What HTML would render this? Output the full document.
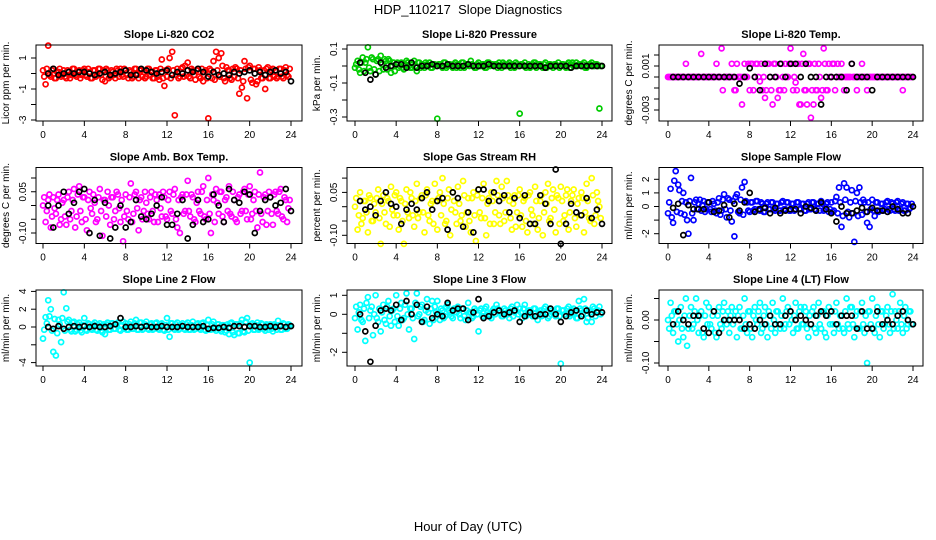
<!DOCTYPE html>
<html><head><meta charset="utf-8"><title>HDP_110217 Slope Diagnostics</title>
<style>
html,body{margin:0;padding:0;background:#fff;}
svg{display:block;font-family:"Liberation Sans",sans-serif;}
</style></head>
<body>
<svg id="chart" width="936" height="540" viewBox="0 0 936 540" xmlns="http://www.w3.org/2000/svg">
<text x="468" y="14" text-anchor="middle" font-size="13">HDP_110217&#160;&#160;Slope Diagnostics</text>
<text x="468" y="531" text-anchor="middle" font-size="13">Hour of Day (UTC)</text>
</svg>
<script>
// ---- data ----
const hours = [0,0.25,0.5,0.75,1,1.25,1.5,1.75,2,2.25,2.5,2.75,3,3.25,3.5,3.75,4,4.25,4.5,4.75,5,5.25,5.5,5.75,6,6.25,6.5,6.75,7,7.25,7.5,7.75,8,8.25,8.5,8.75,9,9.25,9.5,9.75,10,10.25,10.5,10.75,11,11.25,11.5,11.75,12,12.25,12.5,12.75,13,13.25,13.5,13.75,14,14.25,14.5,14.75,15,15.25,15.5,15.75,16,16.25,16.5,16.75,17,17.25,17.5,17.75,18,18.25,18.5,18.75,19,19.25,19.5,19.75,20,20.25,20.5,20.75,21,21.25,21.5,21.75,22,22.25,22.5,22.75,23,23.25,23.5,23.75];
const hours2 = [0.12,0.37,0.62,0.87,1.12,1.37,1.62,1.87,2.12,2.37,2.62,2.87,3.12,3.37,3.62,3.87,4.12,4.37,4.62,4.87,5.12,5.37,5.62,5.87,6.12,6.37,6.62,6.87,7.12,7.37,7.62,7.87,8.12,8.37,8.62,8.87,9.12,9.37,9.62,9.87,10.12,10.37,10.62,10.87,11.12,11.37,11.62,11.87,12.12,12.37,12.62,12.87,13.12,13.37,13.62,13.87,14.12,14.37,14.62,14.87,15.12,15.37,15.62,15.87,16.12,16.37,16.62,16.87,17.12,17.37,17.62,17.87,18.12,18.37,18.62,18.87,19.12,19.37,19.62,19.87,20.12,20.37,20.62,20.87,21.12,21.37,21.62,21.87,22.12,22.37,22.62,22.87,23.12,23.37,23.62,23.87];
const blackHours = [0.5,1,1.5,2,2.5,3,3.5,4,4.5,5,5.5,6,6.5,7,7.5,8,8.5,9,9.5,10,10.5,11,11.5,12,12.5,13,13.5,14,14.5,15,15.5,16,16.5,17,17.5,18,18.5,19,19.5,20,20.5,21,21.5,22,22.5,23,23.5,24];
const xTicks = [0,4,8,12,16,20,24];

const co2Values = [0.2,-0.7,1.8,-0.2,0.3,-0.3,0.1,-0.2, 0.2,-0.3,0.1,-0.1,0.3,-0.2,0.2,-0.1, 0.3,-0.2,0.1,-0.3,0.2,-0.1,0.3,-0.4, -0.5,0.2,-0.2,0.1,-0.3,0.2,0.3,-0.2, 0.2,-0.3,0.1,-0.2,0.3,-0.3,0.2,0.1, -0.2,0.3,0.1,-0.3,0.2,-0.4,0.9,-0.8, -0.2,1.0,1.4,-2.7,0.3,-0.2,0.4,0.5, 0.7,-0.3,0.2,-0.4,0.3,-0.3,-0.5,0.2, -2.9,0.2,0.8,1.4,1.0,1.3,-0.3,0.4, 0.2,-0.4,-0.2,0.3,-1.3,-0.9,0.8,-1.6, 0.5,-0.6,0.3,-0.5,0.2,-0.3,-1.0,0.4, -0.3,0.3,0.2,-0.2,0.3,-0.3,0.4,-0.2];
const co2Values2 = [-0.2,0.3,-0.1,0.2,-0.3,0.1,0.3,-0.1, -0.2,0.2,-0.3,0.3,-0.1,0.1,-0.3,0.2, -0.1,0.3,-0.3,0.2,-0.2,0.3,-0.1,0.2, 0.3,-0.3,0.2,-0.1,0.3,-0.2,-0.1,0.3, -0.1,0.2,-0.3,0.3,-0.1,0.2,-0.2,-0.3, 0.3,-0.1,-0.3,0.2,-0.2,0.3,-0.3,0.2, 0.3,-0.3,0.2,-0.1,-0.3,0.3,-0.2,-0.1, -0.2,0.3,-0.1,0.2,-0.2,0.3,0.1,-0.3, 0.3,-0.3,-0.4,0.2,-0.2,0.5,-0.5,0.2, -0.3,0.3,0.4,-0.3,0.2,-0.5,0.3,0.4, -0.4,0.3,-0.7,0.4,-0.3,0.2,0.3,-0.3, 0.2,-0.2,-0.3,0.3,-0.2,0.2,-0.1,0.3];
const co2Black = [0,0.3,-0.1,0,0.1,0,0.1,0.1,0,-0.1,0,0.1,-0.1,0,0.1,0.2,-0.1,-0.1,0.3,0.2,0.1,0,0.1,0.2,-0.1,0.1,0,0.2,0.1,0.3,0.1,-0.2,0.1,-0.1,0,-0.1,0.1,0,0.1,0.2,0,0.1,-0.1,0.1,0.2,0,0.1,-0.5];

const pressValues = [-0.01,0.03,-0.04,0.05,0.02,0.11,-0.03,0.04, -0.05,0.04,0.06,-0.02,0.03,0.04,-0.04,0.02, 0.01,-0.01,0.02,-0.02,0.03,0.00,-0.01,0.03, -0.03,0.02,0.01,-0.01,0.01,0.02,-0.01,0.01, -0.31,0.01,-0.01,0.02,0.00,0.01,-0.01,0.02, 0.01,-0.01,0.02,0.00,0.01,0.03,0.00,-0.01, 0.02,0.00,0.01,-0.01,0.02,0.01,0.00,0.01, 0.02,-0.01,0.01,0.00,0.02,0.01,-0.01,0.01, -0.28,0.01,0.02,0.00,-0.01,0.01,0.02,0.00, 0.01,-0.01,0.02,0.00,0.01,-0.01,0.01,0.02, 0.00,0.01,-0.01,0.02,0.01,0.00,0.02,0.01, 0.00,0.02,-0.01,0.01,0.02,0.00,0.01,-0.25];
const pressValues2 = [0.01,-0.02,0.02,-0.03,0.04,-0.01,0.05,-0.02, 0.03,-0.03,0.01,0.04,-0.02,0.03,0.00,-0.03, 0.02,0.00,-0.01,0.01,0.02,-0.01,0.01,0.00, 0.02,-0.01,0.00,0.02,0.00,-0.01,0.01,0.00, 0.01,0.00,0.02,-0.01,0.01,0.00,0.01,-0.01, 0.00,0.02,-0.01,0.01,0.00,0.01,-0.01,0.01, 0.00,0.01,-0.01,0.02,0.00,0.01,0.01,-0.01, 0.00,0.02,0.00,0.01,-0.01,0.00,0.02,0.00, 0.01,0.00,-0.01,0.01,0.00,0.02,-0.01,0.01, 0.00,0.01,-0.01,0.01,0.00,0.01,0.00,-0.01, 0.01,0.00,0.01,-0.01,0.02,0.00,0.00,0.01, 0.01,-0.01,0.00,0.01,0.00,0.01,0.00,0.00];
const pressBlack = [0.02,-0.04,-0.08,-0.05,0.02,-0.01,0.00,0.01,0.01,-0.01,0.02,-0.01,0.00,0.00,0.01,0.00,0.00,0.01,0.00,0.00,0.00,0.01,0.00,0.00,0.00,0.01,0.00,0.00,0.00,0.00,0.00,0.00,0.00,0.00,0.00,0.00,-0.01,0.00,0.00,0.00,0.00,-0.01,0.00,0.00,0.00,0.00,0.00,0.00];

// Li-820 temp values in units of 0.001 degC/min
const tempValues = [0,0,0,0,0,0,0,1.2, 0,0,0,0,0,2.1,0,0, 0,0,0,1.2,0,2.6,0,0, 0,1.2,-1.2,1.2,0,-2.5,1.2,0, -1.2,1.2,0,1.2,-0.4,-1.2,-1.9,1.2, 0,-2.5,1.2,-1.9,-1.2,0,1.2,0, 2.6,-1.2,-0.5,1.2,-2.5,2.1,-1.2,1.2, -3.7,-2.5,-1.2,1.2,-1.9,2.6,-1.2,1.2, 0,1.2,0,0,1.2,-1.2,0,0, 1.2,0,-1.2,0,1.2,0,-1.2,0, 0,0,0,0,0,0,0,0, 0,0,0,0,-1.2,0,0,0];
const tempValues2 = [0,0,0,0,0,0,0,0, 0,0,0,0,0,0,0,0, 0,0,0,0,0,-1.2,0,0, 0,0,-1.2,0,0,0,0,1.2, 1.2,-1.2,1.2,0,1.2,0,-1.2,1.2, -1.2,1.2,0,-1.2,1.2,-1.2,0,1.2, 1.2,0,-1.2,-2.5,1.2,-1.2,-2.5,1.2, -1.2,1.2,-1.2,0,-1.2,1.2,-1.2,0, 1.2,-1.2,1.2,0,0,0,0,0, 0,0,0,0,0,0,0,0, 0,0,0,0,0,0,0,0, 0,0,0,0,0,0,0,0];
const tempBlack = [0,0,0,0,0,0,0,0,0,0,0,0,0,-0.6,0,0.8,0,-1.2,1.2,0,0,1.2,0,1.2,1.2,0,1.2,0,0,-2.5,0,0,0,0,-1.2,1.2,0,0,0,-1.2,0,0,0,0,0,0,0,0];

const ambValues = [0.0,-0.06,0.02,-0.08,0.03,-0.03,0.04,-0.05, 0.02,-0.07,0.05,-0.02,0.06,-0.04,0.07,-0.06, 0.03,-0.09,0.05,-0.03,0.01,-0.05,0.06,-0.11, 0.02,0.05,-0.07,0.03,-0.02,0.04,-0.06,-0.13, 0.04,-0.05,0.08,-0.03,0.05,-0.09,0.03,-0.02, 0.01,-0.05,0.05,-0.06,0.02,0.04,-0.04,0.03, -0.05,0.05,-0.03,0.06,-0.08,-0.1,0.04,-0.02, 0.09,-0.04,0.03,-0.06,0.05,-0.03,0.07,-0.05, 0.1,-0.1,0.02,0.06,-0.03,0.05,-0.06,0.03, 0.07,-0.04,0.02,-0.06,0.04,-0.02,0.06,-0.05, 0.07,-0.03,0.05,-0.08,0.12,-0.06,0.04,-0.02, 0.03,-0.07,0.05,-0.03,0.06,-0.05,0.02,-0.01];
const ambValues2 = [0.03,-0.02,0.04,-0.04,-0.01,0.02,-0.07,0.01, -0.04,0.03,-0.05,0.02,-0.08,0.04,-0.02,0.03, -0.05,0.02,-0.01,0.04,-0.06,0.03,-0.02,0.02, -0.04,0.0,0.03,-0.05,0.05,-0.01,0.02,-0.04, -0.02,0.03,-0.06,0.04,-0.01,0.02,-0.05,0.05, -0.03,0.03,-0.02,0.04,-0.06,-0.01,0.05,-0.04, 0.02,-0.02,0.04,-0.05,0.02,0.03,-0.03,0.04, -0.02,0.04,-0.05,0.01,-0.02,0.05,-0.04,0.02, -0.03,0.04,-0.06,0.01,0.05,-0.04,0.02,-0.02, -0.03,0.05,-0.05,0.03,-0.03,0.05,-0.02,0.04, -0.05,0.02,-0.02,0.04,-0.03,0.03,-0.07,0.05, -0.03,0.04,-0.02,0.05,-0.04,0.03,-0.06,0.02];
const ambBlack = [0,-0.08,0,0.05,-0.03,0.01,0.05,0.06,-0.1,0.02,-0.11,0.01,-0.12,-0.08,0.0,-0.08,-0.06,0.02,-0.04,-0.05,-0.03,0.0,0.03,-0.07,-0.07,-0.03,0.02,-0.12,-0.07,0.02,-0.06,-0.05,0.04,0.0,-0.06,0.06,0.02,0.01,0.05,0.04,-0.1,-0.02,0.02,0.03,0.0,0.01,0.06,-0.02];

const rhValues = [0.0,-0.08,0.05,-0.04,0.02,-0.09,0.03,-0.05, -0.02,0.06,-0.13,0.04,-0.06,0.02,0.07,-0.03, 0.05,-0.08,0.02,-0.13,0.06,-0.04,0.03,-0.07, 0.08,-0.02,0.04,-0.09,0.06,-0.05,0.02,0.08, -0.08,0.05,0.1,-0.06,0.03,-0.1,0.05,-0.02, 0.07,-0.05,0.09,-0.07,0.03,-0.09,0.05,-0.12, 0.06,-0.04,0.08,-0.1,0.03,0.05,-0.06,0.09, -0.03,0.07,-0.05,0.09,0.02,-0.08,0.04,-0.02, 0.06,-0.07,0.03,-0.09,0.05,-0.03,0.07,-0.08, 0.02,-0.1,0.05,0.08,-0.04,0.06,-0.09,0.03, 0.07,-0.05,0.04,-0.08,0.02,0.06,-0.07,0.03, 0.05,-0.09,0.08,-0.04,0.1,-0.06,0.05,0.0];
const rhValues2 = [0.03,-0.03,-0.06,0.02,-0.02,0.04,-0.05,0.01, 0.03,-0.04,0.01,-0.02,0.03,-0.07,-0.01,0.04, -0.03,0.03,-0.05,0.01,-0.02,0.05,-0.03,0.02, -0.04,0.03,-0.02,0.04,-0.03,0.01,-0.06,0.02, 0.03,-0.03,0.01,-0.05,0.06,-0.01,0.02,-0.06, 0.01,-0.03,0.04,-0.02,-0.05,0.03,-0.03,0.04, -0.02,0.03,-0.04,0.01,-0.06,0.02,-0.02,0.04, -0.06,0.03,-0.02,0.04,-0.04,0.01,-0.07,0.04, -0.03,0.02,-0.05,0.04,-0.01,-0.06,0.02,-0.04, 0.04,-0.02,0.01,-0.05,0.03,-0.01,0.04,-0.06, 0.02,-0.03,0.06,-0.02,0.04,-0.04,0.01,-0.03, 0.03,-0.02,0.02,-0.05,0.04,-0.03,0.02,-0.04];
const rhBlack = [0.02,-0.01,0.0,-0.03,0.02,0.05,0.01,0.0,-0.06,-0.01,0.01,-0.01,0.03,0.05,-0.01,0.02,0.03,-0.08,0.05,0.03,-0.07,-0.02,-0.09,0.06,0.06,0.02,0.05,0.02,0.04,-0.02,0.03,-0.04,0.04,-0.06,-0.06,0.04,0.01,-0.06,0.13,-0.13,-0.06,0.01,-0.02,-0.03,0.03,-0.04,-0.01,-0.06];

const sampleValues = [-0.5,1.3,-1.2,2.6,1.6,-0.5,1.0,0.3, -2.0,2.1,-1.0,0.5,0.2,-0.3,0.4,-0.2, 0.3,-0.4,0.2,-0.5,0.6,-0.3,0.9,-0.8, 0.5,-1.1,-2.2,0.9,-0.5,1.4,1.8,0.3, -0.4,0.3,-0.2,0.4,-0.3,0.2,-0.4,0.3, -0.2,0.3,-0.3,0.2,-0.3,0.4,-0.2,0.3, -0.3,0.2,-0.2,0.3,-0.2,0.2,-0.3,0.3, -0.2,0.3,-0.3,0.2,0.4,-0.3,0.2,-0.4, 0.3,-0.3,0.7,1.4,-1.5,1.7,1.4,-0.8, 1.2,-2.6,1.0,1.4,-0.6,0.3,-1.2,-1.5, 0.5,-0.7,0.3,-0.3,0.2,-0.2,0.4,-0.3, 0.2,-0.3,0.4,-0.2,0.3,-0.3,0.2,-0.1];
const sampleValues2 = [0.3,-0.8,1.9,-0.4,1.2,0.4,-0.6,-1.0, 0.4,-0.5,0.3,-0.2,0.5,0.1,-0.4,0.3, -0.2,0.4,-0.3,0.3,-0.6,0.5,-0.2,0.6, -0.3,0.4,0.7,-0.4,0.5,-0.6,0.4,-0.3, 0.3,-0.3,0.4,-0.2,0.3,-0.4,0.2,-0.2, 0.3,-0.2,0.2,-0.3,0.3,-0.2,0.3,-0.3, 0.2,-0.3,0.3,-0.2,0.2,-0.3,0.2,-0.2, 0.3,-0.2,0.2,-0.3,0.2,-0.2,0.3,-0.2, -0.4,0.4,-0.5,0.3,-0.7,0.5,-0.4,0.3, -0.5,0.4,-0.7,0.3,0.5,-0.4,0.3,-0.2, -0.3,0.3,-0.4,0.2,-0.3,0.3,-0.2,0.3, -0.2,0.3,-0.3,0.2,-0.3,0.2,-0.2,0.2];
const sampleBlack = [-0.1,0.2,-2.1,0.1,-0.2,-0.2,-0.2,0.3,-0.4,-0.3,0.1,-0.8,0.2,-0.3,0.3,1.0,-0.4,-0.2,-0.1,-0.5,-0.1,-0.5,-0.3,-0.2,-0.2,-0.5,0.0,-0.1,-0.3,0.3,-0.2,-0.5,-1.1,0.0,-0.5,-0.5,-0.3,-0.1,-0.4,-0.1,-0.3,-0.3,-0.4,0.0,-0.2,-0.5,-0.5,0.0];

const line2Values = [-1.3,1.1,3.0,2.0,-2.8,-3.2,0.8,-1.7, 3.9,2.1,0.8,-0.5,0.6,-0.3,0.5,-0.6, 1.0,-0.4,0.3,-0.3,0.5,-0.4,0.4,-0.6, -0.8,0.5,-0.3,0.4,-0.2,0.5,-0.4,0.6, 0.4,-0.3,0.6,-0.2,0.8,-0.3,0.5,-0.2, 0.6,-0.3,0.4,-0.2,0.5,-0.3,0.4,-0.4, 1.0,-1.1,0.4,-0.3,0.5,-0.2,0.4,-0.3, 0.5,-0.3,0.6,-0.2,0.4,-0.3,0.5,-0.4, 0.8,-0.3,0.6,-0.4,0.3,-0.5,0.2,-0.4, -0.8,0.5,-0.9,0.3,-0.7,0.8,-0.6,1.0, -4.0,0.4,-0.3,0.5,-0.2,0.3,-0.4,0.2, 0.3,-0.5,0.2,0.7,-0.3,0.4,-0.2,0.3];
const line2Values2 = [-0.3,0.4,1.2,-0.4,0.9,-0.7,0.3,1.0, -0.4,0.6,-0.3,0.5,-0.5,0.3,-0.4,0.2, -0.3,0.4,-0.2,0.3,-0.3,0.2,-0.4,0.3, 0.3,-0.3,0.4,-0.2,0.3,-0.3,0.2,-0.2, -0.3,0.3,-0.2,0.4,-0.3,0.5,-0.3,0.3, -0.2,0.3,-0.3,0.4,-0.2,0.3,-0.3,0.2, -0.3,0.4,-0.2,0.3,-0.3,0.2,-0.2,0.3, -0.3,0.2,-0.3,0.3,-0.2,0.4,-0.3,0.2, -0.3,0.3,-0.2,0.3,-0.3,0.2,-0.6,0.3, 0.4,-0.6,0.3,-0.7,0.4,-0.5,0.6,-0.4, 0.3,-0.3,0.2,-0.3,0.4,-0.2,0.3,-0.3, -0.2,0.3,-0.3,0.2,-0.3,0.3,-0.2,0.2];
const line2Black = [0,-0.2,0.1,-0.2,0,0.1,0,0.1,0,0.1,0,0,0.1,0.3,1.0,0,0,0.1,0,0.1,0,0,0.1,0,0,0,0.1,0,0,0,0.1,-0.2,-0.1,-0.1,0,-0.1,0.1,0.1,0,0.1,0.1,0,0,0.1,0,0.1,0,0.1];

const line3Values = [-0.2,-0.8,0.5,-0.4,-1.4,0.9,0.2,-1.1, 1.0,-0.4,-0.9,0.5,-0.5,0.7,-0.6,0.3, 1.0,-0.6,0.6,-0.2,1.1,-0.8,0.3,-1.3, 1.1,0.0,0.5,-0.3,0.8,-0.5,0.7,0.4, 0.7,-0.3,0.2,-0.1,0.5,0.1,-0.2,0.3, 0.4,-0.2,0.3,-0.3,0.6,0.1,-0.1,0.2, -0.9,0.3,-0.1,0.4,0.0,-0.2,0.3,0.5, 0.2,-0.1,0.3,0.0,-0.2,0.4,0.1,0.5, 0.3,-0.2,0.5,0.0,0.2,-0.1,0.3,-0.3, 0.2,0.0,0.4,-0.2,0.3,0.1,-0.1,0.3, -2.6,0.2,-0.1,0.4,0.0,0.3,-0.2,0.7, 0.2,0.8,-0.4,0.2,-0.4,0.3,0.1,0.4];
const line3Values2 = [0.4,0.1,-0.3,0.3,0.6,-0.2,0.4,0.0, -0.2,0.3,0.1,-0.3,0.4,-0.1,0.2,-0.4, -0.1,0.3,-0.3,0.5,0.0,0.3,-0.2,0.6, -0.1,0.4,-0.4,0.2,0.1,0.3,-0.3,0.1, 0.0,0.3,-0.2,0.4,0.2,-0.1,0.3,0.1, 0.0,0.3,-0.1,0.2,0.1,-0.2,0.3,0.0, 0.2,-0.1,0.3,0.1,-0.1,0.2,0.0,0.3, 0.1,-0.1,0.2,0.0,0.3,-0.1,0.2,0.0, 0.1,0.3,-0.1,0.2,0.0,0.3,-0.1,0.1, -0.1,0.3,0.1,-0.1,0.2,0.0,0.3,-0.1, 0.2,0.0,0.3,-0.1,0.2,0.1,-0.2,0.3, 0.0,0.3,-0.2,0.1,0.4,-0.1,0.2,0.0];
const line3Black = [0.0,-0.9,-2.5,-0.6,0.2,0.3,0.2,0.5,-0.3,0.7,0.0,0.5,-0.4,0.4,-0.2,0.0,-0.1,0.6,0.2,0.3,0.3,-0.3,0.1,0.8,-0.2,-0.1,0.1,0.2,0.0,0.1,0.2,-0.4,-0.1,0.1,-0.1,0.0,0.0,0.3,0.0,-0.4,-0.1,0.1,0.2,-0.1,0.2,0.0,0.1,0.1];

const line4Values = [0.0,0.04,-0.03,0.02,-0.05,0.03,-0.04,0.05, -0.02,0.03,-0.01,0.05,-0.03,0.02,-0.04,0.04, 0.03,-0.02,0.02,-0.04,0.03,-0.02,0.04,-0.01, -0.03,0.03,0.0,-0.04,0.03,-0.02,0.05,-0.03, 0.02,-0.04,0.03,-0.01,0.04,-0.02,0.03,-0.04, 0.01,0.04,-0.03,0.02,-0.02,0.05,-0.01,0.03, 0.02,-0.03,0.04,-0.02,0.03,-0.01,0.02,-0.04, -0.01,0.03,-0.03,0.04,-0.02,0.02,-0.04,0.03, 0.02,-0.03,0.04,-0.02,0.01,-0.03,0.05,-0.02, 0.03,-0.04,0.02,-0.02,0.04,-0.03,-0.10,0.02, 0.05,-0.03,0.03,-0.04,0.02,-0.01,0.03,-0.03, 0.06,0.02,-0.02,0.04,-0.03,0.03,-0.01,0.02];
const line4Values2 = [-0.02,0.01,0.02,-0.01,0.0,-0.02,0.01,-0.06, 0.01,-0.02,0.02,0.0,0.01,-0.03,0.01,-0.01, -0.01,0.01,-0.03,0.01,-0.01,0.02,0.0,0.02, 0.01,-0.01,0.02,0.01,-0.02,0.01,-0.01,0.02, -0.02,0.01,0.0,0.02,-0.03,0.01,-0.01,0.02, -0.02,0.0,0.02,-0.01,0.01,-0.02,0.02,-0.01, 0.0,0.01,-0.02,0.02,-0.01,0.03,-0.02,0.01, 0.02,-0.02,0.01,-0.01,0.02,-0.03,0.01,-0.01, -0.01,0.02,-0.01,0.01,-0.02,0.02,-0.01,0.03, -0.01,0.01,-0.02,0.02,-0.01,0.01,0.02,-0.01, -0.02,0.01,-0.01,0.02,-0.02,0.01,-0.01,0.02, -0.02,0.0,0.02,-0.01,0.01,-0.02,0.02,-0.01];
const line4Black = [-0.01,0.02,0.00,-0.01,0.01,0.01,-0.02,-0.03,0.02,-0.03,0.00,0.00,0.00,0.00,-0.02,-0.01,-0.02,0.00,-0.01,0.01,-0.01,-0.01,0.01,0.02,0.00,0.01,0.00,-0.01,0.01,0.02,0.01,0.02,-0.01,0.01,0.01,0.01,-0.02,0.02,-0.02,-0.02,0.02,-0.01,0.00,-0.01,0.01,0.02,0.00,-0.01];

const co2Ticks = [1,0,-1,-2,-3];
const co2TickLabels = ["1","","-1","","-3"];
const pressTicks = [0.1,0,-0.1,-0.2,-0.3];
const pressTickLabels = ["0.1","","-0.1","","-0.3"];
const tempTicks = [2,1,0,-1,-2,-3];
const tempTickLabels = ["","0.001","","","","-0.003"];
const ambTicks = [0.1,0.05,0,-0.05,-0.1];
const ambTickLabels = ["","0.05","","","-0.10"];
const rhTicks = [0.1,0.05,0,-0.05,-0.1];
const rhTickLabels = ["","0.05","","","-0.10"];
const sampleTicks = [2,1,0,-1,-2];
const sampleTickLabels = ["2","1","0","","-2"];
const line2Ticks = [4,2,0,-2,-4];
const line2TickLabels = ["4","2","0","","-4"];
const line3Ticks = [1,0,-1,-2];
const line3TickLabels = ["1","0","","-2"];
const line4Ticks = [0.05,0,-0.05,-0.1];
const line4TickLabels = ["","0.00","","-0.10"];

// ---- layout (not data) ----
const colLeft = [36,347,659], colRight = [302,612,923];
const colX0 = [43,355,668], colX24 = [291,602,913];
const rowTop = [45,167.5,290], rowBottom = [121,243.5,366];

const panels = [
 {name:'co2',title:'Slope Li-820 CO2',ylab:'Licor ppm per min.',col:0,row:0,zero:73.5,k:15.5,color:'#ff0000',vals:co2Values,vals2:co2Values2,blk:co2Black,ticks:co2Ticks,tl:co2TickLabels},
 {name:'pressure',title:'Slope Li-820 Pressure',ylab:'kPa per min.',col:1,row:0,zero:66,k:170,color:'#00cc00',vals:pressValues,vals2:pressValues2,blk:pressBlack,ticks:pressTicks,tl:pressTickLabels},
 {name:'li820-temp',title:'Slope Li-820 Temp.',ylab:'degrees C per min.',col:2,row:0,zero:77,k:11,color:'#ff00ff',vals:tempValues,vals2:tempValues2,blk:tempBlack,ticks:tempTicks,tl:tempTickLabels},
 {name:'amb-box-temp',title:'Slope Amb. Box Temp.',ylab:'degrees C per min.',col:0,row:1,zero:205.5,k:275,color:'#ff00ff',vals:ambValues,vals2:ambValues2,blk:ambBlack,ticks:ambTicks,tl:ambTickLabels},
 {name:'gas-stream-rh',title:'Slope Gas Stream RH',ylab:'percent per min.',col:1,row:1,zero:206.7,k:286,color:'#ffff00',vals:rhValues,vals2:rhValues2,blk:rhBlack,ticks:rhTicks,tl:rhTickLabels},
 {name:'sample-flow',title:'Slope Sample Flow',ylab:'ml/min per min.',col:2,row:1,zero:206.5,k:13.6,color:'#0000ff',vals:sampleValues,vals2:sampleValues2,blk:sampleBlack,ticks:sampleTicks,tl:sampleTickLabels},
 {name:'line2-flow',title:'Slope Line 2 Flow',ylab:'ml/min per min.',col:0,row:2,zero:327,k:8.9,color:'#00ffff',vals:line2Values,vals2:line2Values2,blk:line2Black,ticks:line2Ticks,tl:line2TickLabels},
 {name:'line3-flow',title:'Slope Line 3 Flow',ylab:'ml/min per min.',col:1,row:2,zero:314.3,k:19,color:'#00ffff',vals:line3Values,vals2:line3Values2,blk:line3Black,ticks:line3Ticks,tl:line3TickLabels},
 {name:'line4-flow',title:'Slope Line 4 (LT) Flow',ylab:'ml/min per min.',col:2,row:2,zero:320,k:430,color:'#00ffff',vals:line4Values,vals2:line4Values2,blk:line4Black,ticks:line4Ticks,tl:line4TickLabels}
];

const NS='http://www.w3.org/2000/svg';
const svg=document.getElementById('chart');
function mk(tag,attrs,parent){const e=document.createElementNS(NS,tag);for(const k in attrs)e.setAttribute(k,attrs[k]);(parent||svg).appendChild(e);return e;}

panels.forEach(p=>{
  const L=colLeft[p.col],R=colRight[p.col],T=rowTop[p.row],B=rowBottom[p.row];
  const xs=h=>colX0[p.col]+(colX24[p.col]-colX0[p.col])*h/24;
  const ys=v=>p.zero-p.k*v;
  const g=mk('g',{});
  
  
  const title=mk('text',{x:(L+R)/2,y:T-7,'text-anchor':'middle','font-size':'11','font-weight':'bold'},g);
  title.textContent=p.title;
  
  
  const pts=mk('g',{fill:'none','stroke-width':'1.7'},g);
  
  
  const n2=Math.min(hours2.length,p.vals2.length);
  for(let i=0;i<n2;i++){
    const c=mk('circle',{cx:xs(hours2[i]).toFixed(1),cy:ys(p.vals2[i]).toFixed(1),r:'2.5',stroke:p.color},pts);
    
    
  }
  const n=Math.min(hours.length,p.vals.length);
  for(let i=0;i<n;i++){
    const c=mk('circle',{cx:xs(hours[i]).toFixed(1),cy:ys(p.vals[i]).toFixed(1),r:'2.5',stroke:p.color},pts);
    
    
  }
  const m=Math.min(blackHours.length,p.blk.length);
  for(let i=0;i<m;i++){
    const c=mk('circle',{cx:xs(blackHours[i]).toFixed(1),cy:ys(p.blk[i]).toFixed(1),r:'2.5',stroke:'#000'},pts);
    
    
  }
  const box=mk('rect',{x:L,y:T,width:R-L,height:B-T,fill:'none',stroke:'#000','stroke-width':'1'},g);
  
  
  const xa=mk('g',{},g);
  
  
  xTicks.forEach(t=>{
    const x=xs(t);
    mk('line',{x1:x,y1:B,x2:x,y2:B+5,stroke:'#000'},xa);
    const tx=mk('text',{x:x,y:B+17,'text-anchor':'middle','font-size':'10'},xa);
    tx.textContent=String(t);
  });
  const ya=mk('g',{},g);
  
  
  const yTop=ys(p.ticks[0]),yBot=ys(p.ticks[p.ticks.length-1]);
  mk('line',{x1:L,y1:yTop,x2:L,y2:yBot,stroke:'#000'},ya);
  p.ticks.forEach((t,i)=>{
    const y=ys(t);
    mk('line',{x1:L-5,y1:y,x2:L,y2:y,stroke:'#000'},ya);
    if(p.tl[i]){
      const tx=mk('text',{x:L-10,y:y,'text-anchor':'middle','font-size':'10',transform:`rotate(-90 ${L-10} ${y})`},ya);
      tx.textContent=p.tl[i];
    }
  });
  const yl=mk('text',{x:L-27,y:(T+B)/2,'text-anchor':'middle','font-size':'10',transform:`rotate(-90 ${L-27} ${(T+B)/2})`},g);
  yl.textContent=p.ylab;
  
  
});
</script>
</body></html>
